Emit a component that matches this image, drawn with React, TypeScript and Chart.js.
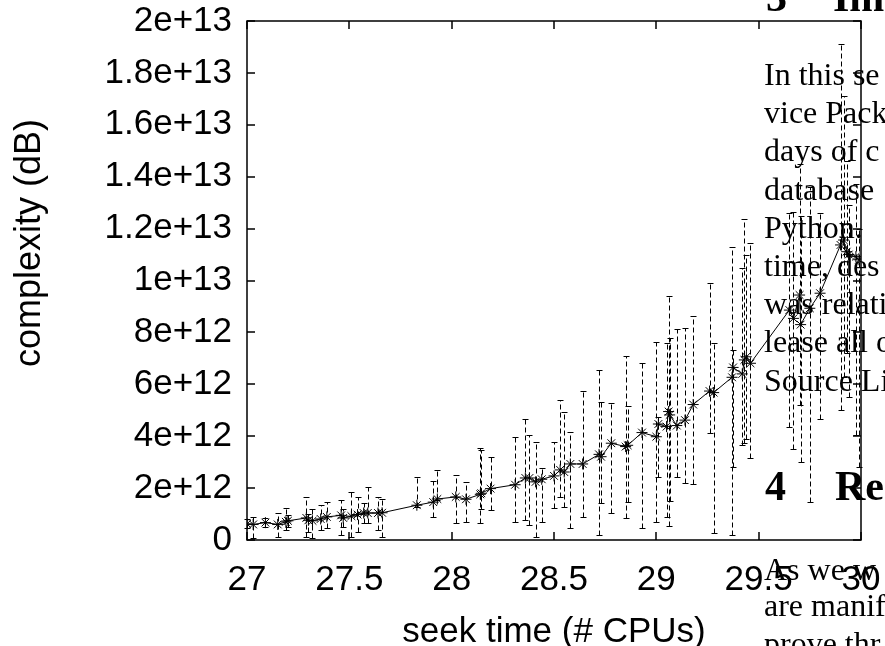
import { useEffect, useRef } from 'react';
import { Chart, registerables } from 'chart.js';

Chart.register(...registerables);

// ---- data ----
const xValues = [
  27.0, 27.03, 27.09, 27.15, 27.19, 27.2, 27.29, 27.3, 27.32, 27.36,
  27.39, 27.46, 27.47, 27.51, 27.54, 27.57, 27.59, 27.64, 27.66, 27.83,
  27.91, 27.93, 28.02, 28.07, 28.14, 28.145, 28.19, 28.31, 28.36, 28.38,
  28.41, 28.44, 28.5, 28.53, 28.55, 28.58, 28.64, 28.72, 28.73, 28.78,
  28.85, 28.86, 28.93, 29.0, 29.01, 29.05, 29.06, 29.065, 29.1, 29.14,
  29.18, 29.26, 29.28, 29.37, 29.375, 29.42, 29.43, 29.44, 29.46, 29.65,
  29.67, 29.7, 29.705, 29.75, 29.8, 29.9, 29.915, 29.93, 29.94, 29.975,
  29.99,
];
const yValues = [
  0.62e12, 0.6e12, 0.67e12, 0.6e12, 0.7e12, 0.74e12, 0.85e12, 0.76e12, 0.74e12, 0.81e12,
  0.89e12, 0.95e12, 0.85e12, 0.92e12, 0.98e12, 1.04e12, 1.04e12, 1.04e12, 1.05e12, 1.34e12,
  1.46e12, 1.58e12, 1.66e12, 1.57e12, 1.76e12, 1.8e12, 1.98e12, 2.13e12, 2.39e12, 2.39e12,
  2.24e12, 2.34e12, 2.47e12, 2.7e12, 2.62e12, 2.93e12, 2.93e12, 3.3e12, 3.21e12, 3.73e12,
  3.6e12, 3.65e12, 4.14e12, 3.98e12, 4.47e12, 4.37e12, 4.95e12, 4.82e12, 4.41e12, 4.62e12,
  5.22e12, 5.74e12, 5.68e12, 6.27e12, 6.65e12, 6.4e12, 6.94e12, 7.06e12, 6.81e12, 8.86e12,
  8.54e12, 9.44e12, 8.3e12, 8.93e12, 9.51e12, 11.37e12, 11.56e12, 11.11e12, 11.0e12, 10.92e12,
  10.8e12,
];
const yLow = [
  0.45e12, 0.06e12, 0.5e12, 0.13e12, 0.39e12, 0.5e12, 0.12e12, 0.3e12, 0.08e12, 0.39e12,
  0.46e12, 0.19e12, 0.5e12, 0.12e12, 0.32e12, 0.65e12, 0.65e12, 0.39e12, 0.13e12, 1.28e12,
  0.87e12, 1.54e12, 0.65e12, 0.68e12, 0.64e12, 1.2e12, 1.16e12, 0.68e12, 0.77e12, 0.56e12,
  0.13e12, 0.71e12, 1.22e12, 1.67e12, 1.27e12, 0.45e12, 0.87e12, 0.19e12, 1.41e12, 1.03e12,
  0.84e12, 1.48e12, 0.47e12, 0.68e12, 2.44e12, 0.9e12, 0.55e12, 1.5e12, 2.44e12, 2.21e12,
  2.16e12, 4.11e12, 0.28e12, 0.19e12, 2.83e12, 3.66e12, 3.73e12, 3.9e12, 3.15e12, 4.37e12,
  3.5e12, 5.2e12, 3.0e12, 1.48e12, 4.65e12, 5.0e12, 6.3e12, 7.2e12, 5.5e12, 4.05e12,
  2.8e12,
];
const yHigh = [
  0.8e12, 0.9e12, 0.85e12, 1.05e12, 1.23e12, 0.95e12, 1.66e12, 1.0e12, 1.2e12, 1.35e12,
  1.46e12, 1.54e12, 1.2e12, 1.86e12, 1.67e12, 1.42e12, 2.05e12, 1.66e12, 1.58e12, 2.44e12,
  2.29e12, 2.7e12, 2.5e12, 2.25e12, 3.53e12, 3.47e12, 3.19e12, 3.96e12, 4.65e12, 4.04e12,
  3.78e12, 2.76e12, 3.79e12, 5.39e12, 4.94e12, 4.17e12, 5.75e12, 6.55e12, 5.33e12, 5.29e12,
  7.09e12, 5.18e12, 6.83e12, 7.64e12, 4.75e12, 7.58e12, 9.4e12, 7.8e12, 8.12e12, 8.16e12,
  8.63e12, 9.89e12, 7.58e12, 11.3e12, 7.32e12, 10.5e12, 12.36e12, 11.0e12, 11.43e12, 12.6e12,
  12.65e12, 14.5e12, 12.5e12, 13.6e12, 12.6e12, 19.1e12, 17.1e12, 14.6e12, 12.9e12, 13.7e12,
  12.0e12,
];

const xTicks = [27, 27.5, 28, 28.5, 29, 29.5, 30];
const xTickLabels = ['27', '27.5', '28', '28.5', '29', '29.5', '30'];
const yTicks = [0, 2e12, 4e12, 6e12, 8e12, 1e13, 1.2e13, 1.4e13, 1.6e13, 1.8e13, 2e13];
const yTickLabels = ['0', '2e+12', '4e+12', '6e+12', '8e+12', '1e+13', '1.2e+13', '1.4e+13', '1.6e+13', '1.8e+13', '2e+13'];
const xTitle = 'seek time (# CPUs)';
const yTitle = 'complexity (dB)';

// surrounding page text (overlapping the figure)
const headingTexts = ['3', 'Im', '4', 'Re'];
const bodyTexts = [
  'In this se', 'vice Pack', 'days of c', 'database', 'Python.', 'time, des',
  'was relati', 'lease all o', 'Source Li', 'As we w', 'are manif', 'prove thr',
];

// ---- layout / style ----
const W = 885;
const H = 646;
const SANS = '"Liberation Sans", Arial, Helvetica, sans-serif';
const SERIF = '"Liberation Serif", "Times New Roman", serif';
const yTitlePos = { x: 30, y: 243 };
const headingPos = [
  { x: 766, y: 11 }, { x: 833, y: 11 }, { x: 765, y: 500 }, { x: 835, y: 500 },
];
const bodyPos = [
  { x: 764, y: 85 }, { x: 764, y: 123 }, { x: 764, y: 161 }, { x: 764, y: 200 },
  { x: 764, y: 238 }, { x: 764, y: 276 }, { x: 764, y: 314 }, { x: 764, y: 352 },
  { x: 764, y: 391 }, { x: 764, y: 580 }, { x: 764, y: 616 }, { x: 764, y: 654 },
];

const errorBarPlugin = {
  id: 'errorBars',
  beforeDatasetsDraw(chart: any) {
    const { ctx } = chart;
    const xs = chart.scales.x;
    const ys = chart.scales.y;
    ctx.save();
    ctx.strokeStyle = '#000';
    ctx.lineWidth = 1;
    xValues.forEach((xv: number, i: number) => {
      const px = Math.round(xs.getPixelForValue(xv)) + 0.5;
      const pLo = Math.round(ys.getPixelForValue(yLow[i])) + 0.5;
      const pHi = Math.round(ys.getPixelForValue(yHigh[i])) + 0.5;
      ctx.setLineDash([5, 3]);
      ctx.beginPath();
      ctx.moveTo(px, pLo);
      ctx.lineTo(px, pHi);
      ctx.stroke();
      ctx.setLineDash([]);
      ctx.beginPath();
      ctx.moveTo(px - 3, pLo);
      ctx.lineTo(px + 3, pLo);
      ctx.moveTo(px - 3, pHi);
      ctx.lineTo(px + 3, pHi);
      ctx.stroke();
    });
    ctx.restore();
  },
};

const framePlugin = {
  id: 'frame',
  afterDraw(chart: any) {
    const { ctx, chartArea } = chart;
    const { left, right, top, bottom } = chartArea;
    const xs = chart.scales.x;
    const ys = chart.scales.y;
    ctx.save();
    ctx.strokeStyle = '#000';
    ctx.lineWidth = 1.5;
    ctx.beginPath();
    ctx.moveTo(left, top);
    ctx.lineTo(right, top);
    ctx.lineTo(right, bottom);
    ctx.lineTo(left, bottom);
    ctx.closePath();
    ctx.stroke();
    const tl = 8;
    ctx.beginPath();
    xTicks.forEach((v) => {
      const p = Math.round(xs.getPixelForValue(v));
      ctx.moveTo(p, bottom);
      ctx.lineTo(p, bottom - tl);
      ctx.moveTo(p, top);
      ctx.lineTo(p, top + tl);
    });
    yTicks.forEach((v) => {
      const p = Math.round(ys.getPixelForValue(v));
      ctx.moveTo(left, p);
      ctx.lineTo(left + tl, p);
      ctx.moveTo(right, p);
      ctx.lineTo(right - tl, p);
    });
    ctx.stroke();

    // y axis title
    ctx.fillStyle = '#000';
    ctx.save();
    ctx.translate(yTitlePos.x, yTitlePos.y);
    ctx.rotate(-Math.PI / 2);
    ctx.textAlign = 'center';
    ctx.textBaseline = 'middle';
    ctx.font = `36px ${SANS}`;
    ctx.fillText(yTitle, 0, 0);
    ctx.restore();

    // page text overlapping the figure
    ctx.textBaseline = 'alphabetic';
    ctx.textAlign = 'left';
    ctx.font = `bold 42px ${SERIF}`;
    headingTexts.forEach((t, i) => ctx.fillText(t, headingPos[i].x, headingPos[i].y));
    ctx.font = `32px ${SERIF}`;
    bodyTexts.forEach((t, i) => ctx.fillText(t, bodyPos[i].x, bodyPos[i].y));
    ctx.restore();
  },
};

const zeroPadding = (scale: any) => {
  scale.paddingLeft = 0;
  scale.paddingRight = 0;
  scale.paddingTop = 0;
  scale.paddingBottom = 0;
};

export default function App() {
  const ref = useRef<HTMLCanvasElement | null>(null);
  useEffect(() => {
    document.body.style.margin = '0';
    const canvas = ref.current;
    if (!canvas) return;
    const chart = new Chart(canvas, {
      type: 'line',
      data: {
        datasets: [
          {
            data: xValues.map((xv, i) => ({ x: xv, y: yValues[i] })),
            borderColor: '#000',
            backgroundColor: '#000',
            borderWidth: 1,
            pointStyle: 'star',
            pointRadius: 5.5,
            pointBorderWidth: 1,
            pointBorderColor: '#000',
            tension: 0,
            fill: false,
          },
        ],
      },
      options: {
        animation: false,
        responsive: false,
        devicePixelRatio: 1,
        layout: { padding: { left: 0, right: 24, top: 21, bottom: 0 } },
        plugins: { legend: { display: false }, tooltip: { enabled: false } },
        scales: {
          x: {
            type: 'linear',
            min: 27,
            max: 30,
            grid: { display: false, drawTicks: false },
            border: { display: false },
            afterBuildTicks: (scale: any) => {
              scale.ticks = xTicks.map((v) => ({ value: v }));
            },
            afterFit: (scale: any) => {
              scale.height = 106;
              zeroPadding(scale);
            },
            ticks: {
              padding: 19,
              color: '#000',
              font: { family: SANS, size: 35 },
              maxRotation: 0,
              autoSkip: false,
              callback: (_v: any, i: number) => xTickLabels[i],
            },
            title: {
              display: true,
              text: xTitle,
              color: '#000',
              font: { family: SANS, size: 35, lineHeight: 0.8 },
              padding: { top: 0, bottom: 0 },
            },
          },
          y: {
            type: 'linear',
            min: 0,
            max: 2e13,
            grid: { display: false, drawTicks: false },
            border: { display: false },
            afterBuildTicks: (scale: any) => {
              scale.ticks = yTicks.map((v) => ({ value: v }));
            },
            afterFit: (scale: any) => {
              scale.width = 247;
              zeroPadding(scale);
            },
            ticks: {
              padding: 15,
              color: '#000',
              font: { family: SANS, size: 35, lineHeight: 1 },
              autoSkip: false,
              callback: (_v: any, i: number) => yTickLabels[i],
            },
            title: { display: false, text: yTitle },
          },
        },
      },
      plugins: [errorBarPlugin, framePlugin],
    } as any);
    return () => chart.destroy();
  }, []);
  return (
    <div style={{ position: 'absolute', left: 0, top: 0, width: W, height: H }}>
      <canvas ref={ref} width={W} height={H} style={{ width: W, height: H, display: 'block' }} />
    </div>
  );
}
